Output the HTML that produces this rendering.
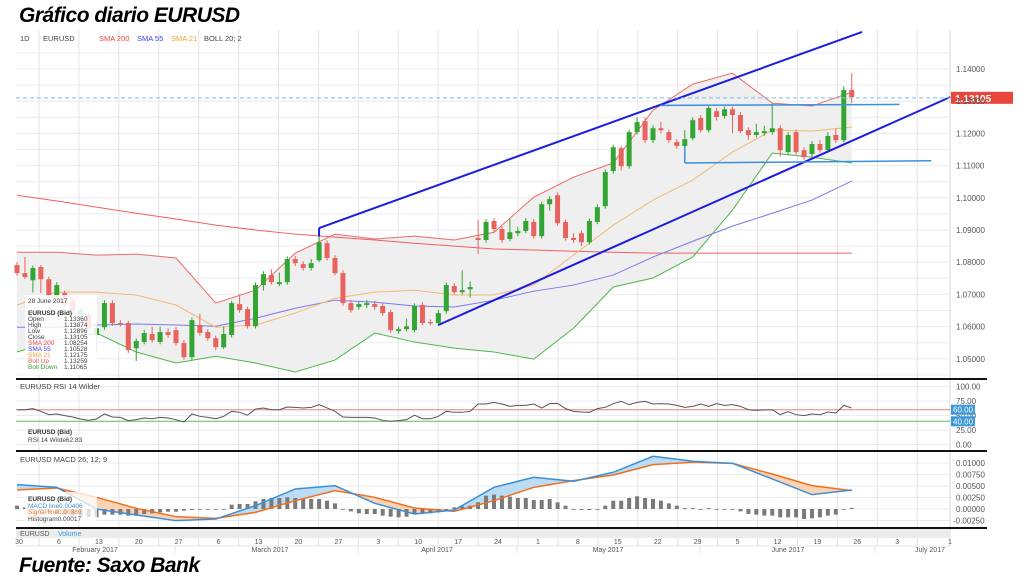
<!DOCTYPE html>
<html>
<head>
<meta charset="utf-8">
<style>
html,body{margin:0;padding:0;background:#fff;}
body{width:1024px;height:580px;overflow:hidden;position:relative;font-family:"Liberation Sans",sans-serif;}
.ttl{position:absolute;left:19px;font-style:italic;font-weight:bold;font-size:21px;color:#000;font-family:"Liberation Sans",sans-serif;letter-spacing:-0.5px;}
svg text{font-family:"Liberation Sans",sans-serif;}
</style>
</head>
<body>
<div class="ttl" style="top:4px">Gráfico diario EURUSD</div>
<div class="ttl" style="top:554px">Fuente: Saxo Bank</div>
<svg id="chart" width="1024" height="580" style="position:absolute;left:0;top:0"></svg>
<script>
// ---- data ----
const opens=[1.0791,1.0766,1.0744,1.0785,1.0747,1.0692,1.0704,1.0682,1.0636,1.0636,1.0574,1.0598,1.0673,1.0611,1.0611,1.0533,1.0552,1.0577,1.0552,1.0583,1.0589,1.0549,1.0505,1.0605,1.0583,1.0564,1.0536,1.0574,1.0670,1.0654,1.0601,1.0729,1.0760,1.0732,1.0738,1.0810,1.0794,1.0782,1.0806,1.0859,1.0813,1.0766,1.0673,1.0661,1.0667,1.0670,1.0664,1.0645,1.0586,1.0592,1.0589,1.0667,1.0614,1.0611,1.0648,1.0726,1.0707,1.0716,1.0875,1.0869,1.0928,1.0903,1.0872,1.0890,1.0897,1.0925,1.0881,1.0980,1.1008,1.0925,1.0875,1.0890,1.0862,1.0925,1.0974,1.1083,1.1154,1.1098,1.1204,1.1238,1.1179,1.1216,1.1204,1.1173,1.1161,1.1185,1.1248,1.1210,1.1269,1.1254,1.1275,1.1257,1.1210,1.1195,1.1201,1.1204,1.1216,1.1142,1.1204,1.1148,1.1136,1.1167,1.1148,1.1195,1.1179,1.1335];
const closes=[1.0766,1.0754,1.0782,1.0747,1.0698,1.0729,1.0667,1.0651,1.0651,1.0595,1.0595,1.0673,1.0611,1.0608,1.0527,1.0555,1.0580,1.0558,1.0583,1.0574,1.0549,1.0505,1.0620,1.0580,1.0564,1.0536,1.0577,1.0673,1.0651,1.0601,1.0729,1.0763,1.0738,1.0738,1.0810,1.0797,1.0782,1.0797,1.0862,1.0813,1.0766,1.0673,1.0651,1.0670,1.0673,1.0661,1.0642,1.0589,1.0592,1.0601,1.0664,1.0611,1.0611,1.0642,1.0729,1.0707,1.0713,1.0723,1.0869,1.0925,1.0903,1.0869,1.0893,1.0897,1.0928,1.0881,1.0980,1.0996,1.0921,1.0875,1.0869,1.0862,1.0928,1.0971,1.1080,1.1157,1.1098,1.1204,1.1235,1.1179,1.1216,1.1210,1.1179,1.1161,1.1182,1.1241,1.1210,1.1279,1.1251,1.1275,1.1257,1.1207,1.1195,1.1204,1.1207,1.1216,1.1148,1.1195,1.1142,1.1126,1.1167,1.1148,1.1192,1.1179,1.1335,1.1313];
const highs=[1.0800,1.0816,1.0790,1.0791,1.0755,1.0738,1.0712,1.0690,1.0660,1.0644,1.0603,1.0682,1.0682,1.0620,1.0618,1.0563,1.0590,1.0600,1.0600,1.0595,1.0598,1.0558,1.0628,1.0640,1.0592,1.0572,1.0600,1.0680,1.0700,1.0662,1.0737,1.0772,1.0778,1.0768,1.0818,1.0820,1.0803,1.0810,1.0900,1.0868,1.0822,1.0775,1.0682,1.0678,1.0682,1.0680,1.0672,1.0653,1.0600,1.0625,1.0672,1.0676,1.0622,1.0652,1.0737,1.0735,1.0775,1.0740,1.0931,1.0934,1.0937,1.0912,1.0935,1.0910,1.0937,1.0934,1.0988,1.1005,1.1017,1.0933,1.0890,1.0898,1.0936,1.0980,1.1088,1.1165,1.1162,1.1212,1.1250,1.1250,1.1225,1.1236,1.1212,1.1182,1.1210,1.1250,1.1257,1.1287,1.1278,1.1284,1.1284,1.1266,1.1219,1.1230,1.1224,1.1294,1.1225,1.1204,1.1212,1.1157,1.1176,1.1180,1.1204,1.1215,1.1346,1.1387];
const lows=[1.0758,1.0748,1.0706,1.0704,1.0690,1.0685,1.0660,1.0642,1.0628,1.0588,1.0521,1.0590,1.0602,1.0600,1.0518,1.0493,1.0545,1.0550,1.0545,1.0565,1.0540,1.0497,1.0495,1.0572,1.0556,1.0528,1.0530,1.0566,1.0643,1.0594,1.0594,1.0712,1.0730,1.0725,1.0730,1.0788,1.0774,1.0774,1.0800,1.0805,1.0760,1.0665,1.0643,1.0652,1.0658,1.0652,1.0634,1.0580,1.0578,1.0585,1.0582,1.0604,1.0604,1.0602,1.0640,1.0700,1.0700,1.0690,1.0825,1.0860,1.0894,1.0860,1.0865,1.0880,1.0890,1.0873,1.0873,1.0960,1.0913,1.0867,1.0860,1.0850,1.0855,1.0918,1.0966,1.1075,1.1085,1.1090,1.1196,1.1170,1.1170,1.1200,1.1170,1.1152,1.1155,1.1178,1.1202,1.1202,1.1240,1.1246,1.1200,1.1200,1.1180,1.1188,1.1192,1.1196,1.1128,1.1134,1.1134,1.1118,1.1128,1.1140,1.1140,1.1170,1.1172,1.1294];
// indicator samples every 5 bars
const indIdx=[0,5,10,15,20,25,30,35,40,45,50,55,60,65,70,75,80,85,90,95,100,105];
const sma200=[1.1008,1.0990,1.0971,1.0952,1.0934,1.0915,1.0900,1.0887,1.0878,1.0869,1.0859,1.0850,1.0841,1.0838,1.0834,1.0831,1.0828,1.0828,1.0828,1.0828,1.0828,1.0828];
const sma55=[1.0598,1.0598,1.0605,1.0608,1.0605,1.0601,1.0626,1.0657,1.0682,1.0676,1.0664,1.0661,1.0682,1.0710,1.0729,1.0760,1.0816,1.0865,1.0912,1.0952,1.0993,1.1052];
const sma21=[1.0667,1.0707,1.0707,1.0698,1.0667,1.0598,1.0605,1.0642,1.0688,1.0707,1.0713,1.0698,1.0698,1.0729,1.0822,1.0915,1.0993,1.1055,1.1142,1.1210,1.1207,1.1220];
const bollUp=[1.0831,1.0831,1.0822,1.0825,1.0813,1.0673,1.0713,1.0828,1.0887,1.0872,1.0881,1.0869,1.0893,1.1002,1.1064,1.1108,1.1272,1.1353,1.1387,1.1294,1.1285,1.1328];
const bollDown=[1.0521,1.0558,1.0580,1.0521,1.0487,1.0508,1.0487,1.0459,1.0496,1.0580,1.0552,1.0533,1.0521,1.0499,1.0595,1.0723,1.0751,1.0816,1.0962,1.1139,1.1126,1.1108];
const rsi=[60.0,60.0,61.8,57.2,51.4,52.6,49.7,47.4,44.0,41.7,44.0,52.6,47.4,46.8,41.1,42.8,45.7,44.5,46.8,45.7,42.8,38.8,52.6,48.6,46.8,44.5,48.6,57.2,55.5,50.5,61.1,63.0,60.0,60.0,64.7,64.1,63.0,64.1,68.7,63.0,57.2,47.4,46.8,46.8,46.8,45.7,41.7,40.0,41.1,42.8,50.5,44.5,44.5,48.6,57.2,55.5,55.5,57.2,69.8,
69.8,72.7,69.8,65.8,67.5,67.5,69.8,62.9,70.4,70.9,61.8,57.2,56.1,55.5,61.8,64.1,70.4,74.4,68.7,72.7,74.4,69.8,70.4,69.8,67.5,64.1,65.8,69.8,65.8,70.4,67.5,68.7,65.8,60.0,58.9,59.5,60.0,51.4,56.6,51.4,49.7,52.6,51.4,56.1,54.3,67.5,62.8];
const macdLine=[0.00529,0.00471,0.0000,-0.00131,-0.00254,-0.00218,0.00073,0.00435,0.00508,0.00123,-0.00109,-0.00022,0.00471,0.00689,0.00602,0.00798,0.01146,0.01037,0.00993,0.00653,0.00312,0.00413];
const signalLine=[0.00413,0.00457,0.00254,0.00015,-0.00167,-0.00203,-0.00073,0.00181,0.00399,0.00254,0.00022,-0.00051,0.00181,0.00471,0.00616,0.00740,0.00964,0.01015,0.00993,0.00761,0.00508,0.00399];
const histo=[0.00073,0.00036,0,-0.00036,-0.00073,-0.00109,-0.00131,-0.00145,-0.0016,-0.00174,-0.00181,-0.00123,-0.00123,-0.00123,-0.00145,-0.00145,-0.00109,-0.00094,-0.00073,-0.00058,-0.00058,-0.00036,-0.00022,-0.00007,0,-0.00007,0,0.00094,0.00109,0.00109,0.00167,0.00218,0.00239,0.00239,0.00254,0.00239,0.00218,0.00218,0.00218,0.00181,0.00123,0,-0.00051,-0.00094,-0.00109,-0.00109,-0.00145,-0.00167,-0.00181,-0.00167,-0.00109,-0.00109,-0.00094,-0.00073,-0.00022,0.00036,0.00058,0.00073,0.00145,
0.0029,0.00312,0.0029,0.00268,0.00239,0.00239,0.00196,0.00196,0.00218,0.00145,0.00073,0,-0.00022,-0.00022,0,0.00073,0.00181,0.00181,0.00239,0.00276,0.00239,0.00218,0.00181,0.00123,0.00073,0.00022,0.00022,0,0.00022,0,0,0,-0.00051,-0.00109,-0.00123,-0.00145,-0.00145,-0.00181,-0.00181,-0.00181,-0.00218,-0.00203,-0.00181,-0.00145,-0.00123,-0.00015,0.00022];
const priceTicks=[1.14,1.13,1.12,1.11,1.10,1.09,1.08,1.07,1.06,1.05];
const rsiTicks=[100,75,50,25,0];
const macdTicks=[0.01,0.0075,0.005,0.0025,0,-0.0025];
const weekLabels=["30","6","13","20","27","6","13","20","27","3","10","17","24","1","8","15","22","29","5","12","19","26","3","1"];
const monthLabels=["February 2017","March 2017","April 2017","May 2017","June 2017","July 2017"];
const lastPrice=1.13105;

// ---- scales ----
const X0=17, DX=7.95;
function xi(i){return X0+DX*i;}
function yP(p){return 69+(1.14-p)*3220;}
function yR(v){return 444.5-v*0.58;}
function yM(v){return 509-v*4600;}
const NS="http://www.w3.org/2000/svg";
const svg=document.getElementById('chart');
function mk(tag,attrs,parent){const e=document.createElementNS(NS,tag);for(const k in attrs)e.setAttribute(k,attrs[k]);(parent||svg).appendChild(e);return e;}
let el;

// grid
const gGrid=mk('g',{});


for(let k=0;k<23;k++){const x=39+39.92*k;
  el=mk('line',{x1:x,x2:x,y1:30,y2:546,stroke:'#e4e4e4','stroke-width':1},gGrid);
  
  
}
for(let p=1.045;p<=1.1451;p+=0.005){const y=yP(p);
  el=mk('line',{x1:16,x2:950,y1:y,y2:y,stroke:'#ececec','stroke-width':1},gGrid);
  
  
}
[100,75,50,25,0].forEach(v=>{el=mk('line',{x1:16,x2:950,y1:yR(v),y2:yR(v),stroke:'#ececec'},gGrid);
  
  });
macdTicks.forEach(v=>{el=mk('line',{x1:16,x2:950,y1:yM(v),y2:yM(v),stroke:'#ececec'},gGrid);
  
  });
el=mk('line',{x1:950,x2:950,y1:30,y2:546,stroke:'#d8d8d8'});



// header
const hdr=[["1D",20,"#444"],["EURUSD",43,"#444"],["SMA 200",99,"#f04040"],["SMA 55",137,"#4040f0"],["SMA 21",171,"#f0a030"],["BOLL 20; 2",204,"#444"]];
hdr.forEach(h=>{el=mk('text',{x:h[1],y:41,'font-size':7.5,fill:h[2]});el.textContent=h[0];
  
  });

function poly(vals,scale){return indIdx.map((ix,k)=>xi(ix)+','+scale(vals[k])).join(' ');}
// bollinger fill
const upPts=indIdx.map((ix,k)=>xi(ix)+','+yP(bollUp[k]));
const dnPts=indIdx.map((ix,k)=>xi(ix)+','+yP(bollDown[k])).reverse();
el=mk('polygon',{points:upPts.concat(dnPts).join(' '),fill:'#efefef'});


el=mk('polyline',{points:poly(sma200,yP),fill:'none',stroke:'#f06060','stroke-width':1});


el=mk('polyline',{points:poly(sma55,yP),fill:'none',stroke:'#7878f0','stroke-width':1});


el=mk('polyline',{points:poly(sma21,yP),fill:'none',stroke:'#f5b870','stroke-width':1});


el=mk('polyline',{points:poly(bollUp,yP),fill:'none',stroke:'#ec6a6a','stroke-width':1});


el=mk('polyline',{points:poly(bollDown,yP),fill:'none',stroke:'#4cb84c','stroke-width':1});



// candles
for(let i=0;i<opens.length;i++){
  const up=closes[i]>=opens[i];const col=up?'#33a533':'#e8635e';
  const x=xi(i);
  el=mk('line',{x1:x,x2:x,y1:yP(highs[i]),y2:yP(lows[i]),stroke:col,'stroke-width':1});
  
  
  const t=yP(Math.max(opens[i],closes[i])),b=yP(Math.min(opens[i],closes[i]));
  el=mk('rect',{x:x-2.5,y:t,width:5,height:Math.max(1.2,b-t),fill:col});
  
  
}

// trend annotations (index, price)
function seg(i1,p1,i2,p2,col,w,name){el=mk('line',{x1:xi(i1),y1:yP(p1),x2:xi(i2),y2:yP(p2),stroke:col,'stroke-width':w});
  
  }
seg(38,1.0906,106.3,1.1515,'#1c1ce0',2,'upper-channel-line');
seg(38,1.0906,38,1.0880,'#1c1ce0',2,'upper-channel-anchor');
seg(53,1.0605,117.4,1.1313,'#1c1ce0',2,'lower-channel-line');
seg(80.9,1.1287,111,1.1290,'#3a90dc',1.5,'resistance-line');
seg(84,1.1108,115,1.1115,'#3a90dc',1.5,'support-line');
seg(84,1.1161,84,1.1108,'#3a90dc',1.5,'support-anchor');

// last price dashed line + label
el=mk('line',{x1:16,x2:950,y1:yP(lastPrice),y2:yP(lastPrice),stroke:'#7cc0ee','stroke-dasharray':'4,3'});


el=mk('rect',{x:951,y:yP(lastPrice)-6,width:62,height:12,fill:'#e8453c'});


el=mk('text',{x:955,y:yP(lastPrice)+4,'font-size':10,'font-weight':'bold',fill:'#fff'});el.textContent=lastPrice.toFixed(5);



// price axis
priceTicks.forEach(p=>{el=mk('text',{x:956,y:yP(p)+3,'font-size':8,fill:'#555'});el.textContent=p.toFixed(5);
  
  });

// data legend box
el=mk('rect',{x:25,y:295,width:72,height:80,fill:'#fff','fill-opacity':0.85});


const lg=[["28 June 2017","",301,"#444",false],["EURUSD (Bid)","",313,"#333",true],["Open","1.13360",319,"#444"],["High","1.13874",325,"#444"],["Low","1.12896",331,"#444"],["Close","1.13105",337,"#444"],["SMA 200","1.08254",343,"#f04040"],["SMA 55","1.10528",349,"#4040f0"],["SMA 21","1.12175",355,"#f0a030"],["Boll Up","1.13259",361,"#f05050"],["Boll Down","1.11065",367,"#30a030"]];
lg.forEach(r=>{el=mk('text',{x:28,y:r[2]+2,'font-size':6.5,fill:r[3],'font-weight':r[4]?'bold':'normal'});el.textContent=r[0];
  
  
  if(r[1]){el=mk('text',{x:64,y:r[2]+2,'font-size':6.5,fill:'#444'});el.textContent=r[1];
  
  }});

// separators
[379,451,528].forEach(y=>{el=mk('line',{x1:16,x2:987,y1:y,y2:y,stroke:'#111','stroke-width':2});
  
  });

// RSI panel
el=mk('text',{x:20,y:389,'font-size':7.5,fill:'#444'});el.textContent="EURUSD  RSI 14 Wilder";


el=mk('line',{x1:16,x2:950,y1:yR(60),y2:yR(60),stroke:'#e88080'});


el=mk('line',{x1:16,x2:950,y1:yR(40),y2:yR(40),stroke:'#5cc05c'});


el=mk('polyline',{points:rsi.map((v,i)=>xi(i)+','+yR(v)).join(' '),fill:'none',stroke:'#555','stroke-width':1});


rsiTicks.forEach(v=>{el=mk('text',{x:956,y:yR(v)+3,'font-size':8,fill:'#555'});el.textContent=v.toFixed(2);
  
  });
[[60,'rsi-60-badge'],[40,'rsi-40-badge']].forEach(b=>{
  el=mk('rect',{x:951,y:yR(b[0])-5,width:24,height:10,fill:'#3a98d8'});
  
  
  el=mk('text',{x:953,y:yR(b[0])+3,'font-size':8,fill:'#fff'});el.textContent=b[0].toFixed(2);
  
  });
el=mk('text',{x:28,y:434,'font-size':6.5,'font-weight':'bold',fill:'#333'});el.textContent="EURUSD (Bid)";


el=mk('text',{x:28,y:442,'font-size':6.5,fill:'#444'});el.textContent="RSI 14 Wilde62.83";



// MACD panel
el=mk('text',{x:20,y:462,'font-size':7.5,fill:'#444'});el.textContent="EURUSD  MACD 26; 12; 9";


for(let k=0;k<indIdx.length-1;k++){
  const xa=xi(indIdx[k]),xb=xi(indIdx[k+1]);
  const d=(macdLine[k]-signalLine[k])+(macdLine[k+1]-signalLine[k+1]);
  el=mk('polygon',{points:[xa+','+yM(macdLine[k]),xb+','+yM(macdLine[k+1]),xb+','+yM(signalLine[k+1]),xa+','+yM(signalLine[k])].join(' '),fill:d>=0?'#bcdcf4':'#fbd2b4'});
  
  
}
for(let i=0;i<histo.length;i++){const y0=yM(0),y1=yM(histo[i]);
  el=mk('rect',{x:xi(i)-2,y:Math.min(y0,y1),width:4,height:Math.max(0.8,Math.abs(y1-y0)),fill:'#7a7a7a'});
  
  
}
el=mk('polyline',{points:poly(signalLine,yM),fill:'none',stroke:'#f07020','stroke-width':1.5});


el=mk('polyline',{points:poly(macdLine,yM),fill:'none',stroke:'#3a90d8','stroke-width':1.5});


macdTicks.forEach(v=>{el=mk('text',{x:v<0?953:956,y:yM(v)+3,'font-size':8,fill:'#555'});el.textContent=v.toFixed(5);
  
  });
el=mk('rect',{x:25,y:492,width:72,height:29,fill:'#fff','fill-opacity':0.75});


[["EURUSD (Bid)",499,"#333",true],["MACD line0.00406",506,"#3a90d8"],["Signal line0.00389",512,"#f07020"],["Histogram0.00017",519,"#444"]].forEach(r=>{
  el=mk('text',{x:28,y:r[1]+2,'font-size':6.5,fill:r[2],'font-weight':r[3]?'bold':'normal'});el.textContent=r[0];
  
  });

// volume strip
el=mk('rect',{x:16,y:529,width:934,height:9,fill:'#ececec'});


el=mk('text',{x:20,y:536,'font-size':7,fill:'#555'});el.textContent="EURUSD ";


el=mk('text',{x:58,y:536,'font-size':7,fill:'#3a98d8'});el.textContent="Volume";



// x axis
el=mk('line',{x1:16,x2:950,y1:546,y2:546,stroke:'#e4e4e4'});


weekLabels.forEach((t,k)=>{const x=k<23?39+39.92*k-20:950;
  el=mk('text',{x:x,y:544,'font-size':7,fill:'#555','text-anchor':'middle'});el.textContent=t;
  
  });
const monthX=[95,270,437,608,788,930];
monthLabels.forEach((t,k)=>{el=mk('text',{x:monthX[k],y:552,'font-size':7,fill:'#555','text-anchor':'middle'});el.textContent=t;
  
  });
[175,358,517,700,875].forEach(x=>{el=mk('line',{x1:x,x2:x,y1:546,y2:553,stroke:'#e4e4e4'});
  
  });
</script>
</body>
</html>
